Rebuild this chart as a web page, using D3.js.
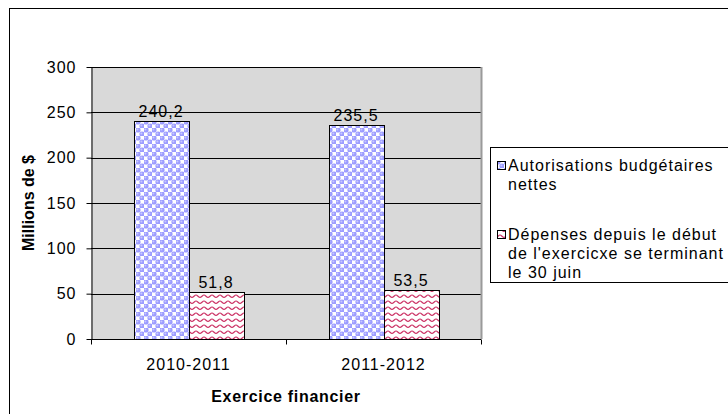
<!DOCTYPE html>
<html>
<head>
<meta charset="utf-8">
<script src="https://cdn.jsdelivr.net/npm/d3@7"></script>
<style>
  body { margin: 0; background: #fff; }
  text { font-family: "Liberation Sans", Arial, sans-serif; }
</style>
</head>
<body>
<div id="chart"></div>
<script>
const categories = ["2010-2011", "2011-2012"]
const seriesNames = ["Autorisations budgétaires nettes", "Dépenses depuis le début de l'exercicxe se terminant le 30 juin"]
const autorisations = [240.2, 235.5]
const depenses = [51.8, 53.5]
const yTicks = [0, 50, 100, 150, 200, 250, 300]

const width = 728
const height = 414
const plot = { left: 91, right: 481, top: 67, bottom: 339 }

const svg = d3.select("#chart").append("svg")
  .attr("width", width)
  .attr("height", height)

const defs = svg.append("defs")

// dotted blue fill
const dots = defs.append("pattern")
  .attr("id", "dots")
  .attr("patternUnits", "userSpaceOnUse")
  .attr("width", 8).attr("height", 8)
dots.append("rect").attr("width", 8).attr("height", 8).attr("fill", "#fff")
;[[2, 2], [6, 6]].forEach(p => {
  dots.append("circle").attr("cx", p[0]).attr("cy", p[1]).attr("r", 2.6).attr("fill", "#9c9cff")
  dots.append("circle").attr("cx", p[0] - 0.6).attr("cy", p[1] - 0.6).attr("r", 1).attr("fill", "#c8c8ff")
})

// wavy red fill
const wave = defs.append("pattern")
  .attr("id", "wave")
  .attr("patternUnits", "userSpaceOnUse")
  .attr("width", 8).attr("height", 6)
wave.append("rect").attr("width", 8).attr("height", 6).attr("fill", "#fff")
wave.append("path")
  .attr("d", "M0,3.5 C1.3,3.5 2.7,1 4,1 C5.3,1 6.7,3.5 8,3.5")
  .attr("fill", "none")
  .attr("stroke", "#cc3366")
  .attr("stroke-width", 1.2)

// outer frame
svg.append("rect")
  .attr("x", 9.5).attr("y", 8.5)
  .attr("width", 740).attr("height", 420)
  .attr("fill", "none").attr("stroke", "#000")

const x = d3.scaleBand().domain(categories).range([plot.left, plot.right])
const y = d3.scaleLinear().domain([0, 300]).range([plot.bottom, plot.top])
const barW = x.bandwidth() / (2 + 1.55)
const offset = (x.bandwidth() - 2 * barW) / 2

// plot background
svg.append("rect")
  .attr("x", plot.left).attr("y", plot.top)
  .attr("width", plot.right - plot.left).attr("height", plot.bottom - plot.top)
  .attr("fill", "#d9d9d9")

// gridlines
svg.append("g").selectAll("line")
  .data(yTicks.slice(1))
  .join("line")
    .attr("x1", plot.left).attr("x2", plot.right)
    .attr("y1", d => Math.round(y(d)) + 0.5).attr("y2", d => Math.round(y(d)) + 0.5)
    .attr("stroke", "#000")

// right border of plot area
svg.append("line")
  .attr("x1", plot.right + 0.5).attr("x2", plot.right + 0.5)
  .attr("y1", plot.top).attr("y2", plot.bottom)
  .attr("stroke", "#9a9a9a").attr("stroke-width", 2)

// bars
const series = [
  { values: autorisations, fill: "url(#dots)" },
  { values: depenses, fill: "url(#wave)" }
]
series.forEach((s, si) => {
  const g = svg.append("g")
  g.selectAll("rect")
    .data(categories)
    .join("rect")
      .attr("x", (d, i) => Math.round(x(d) + offset + si * barW) + 0.5)
      .attr("y", (d, i) => Math.round(y(s.values[i])) + 0.5)
      .attr("width", Math.round(barW))
      .attr("height", (d, i) => Math.round(y(0)) - Math.round(y(s.values[i])))
      .attr("fill", s.fill)
      .attr("stroke", "#000")
  g.selectAll("text")
    .data(categories)
    .join("text")
      .attr("x", (d, i) => x(d) + offset + si * barW + barW / 2)
      .attr("y", (d, i) => y(s.values[i]) - 4)
      .attr("text-anchor", "middle")
      .style("font-size", "16px")
      .style("letter-spacing", "1px")
      .text((d, i) => d3.format(".1f")(s.values[i]).replace(".", ","))
})

// y axis
const yAxis = svg.append("g")
  .attr("transform", `translate(${plot.left + 0.5},0)`)
  .call(d3.axisLeft(y).tickValues(yTicks).tickSize(5).tickSizeOuter(0).tickPadding(10))
yAxis.select(".domain").attr("stroke", "#000")
yAxis.selectAll("text")
  .style("font-size", "16px")
  .style("letter-spacing", "1px")
  .style("font-family", "Liberation Sans, Arial, sans-serif")
  .attr("fill", "#000")

// x axis
const xAxis = svg.append("g")
  .attr("transform", `translate(0,${Math.round(y(0)) + 0.5})`)
  .call(d3.axisBottom(x).tickSize(0).tickPadding(19))
xAxis.select(".domain").remove()
xAxis.append("line")
  .attr("x1", plot.left).attr("x2", plot.right).attr("stroke", "#000")
xAxis.selectAll("text")
  .style("font-size", "16px")
  .style("letter-spacing", "1px")
  .style("font-family", "Liberation Sans, Arial, sans-serif")
  .attr("fill", "#000")
xAxis.append("g").selectAll("line")
  .data([plot.left, plot.left + x.step(), plot.right])
  .join("line")
    .attr("x1", d => Math.round(d) + 0.5).attr("x2", d => Math.round(d) + 0.5)
    .attr("y1", 0).attr("y2", 5)
    .attr("stroke", "#000")

// axis titles
svg.append("text")
  .attr("transform", `translate(34,${(plot.top + plot.bottom) / 2}) rotate(-90)`)
  .attr("text-anchor", "middle")
  .style("font-size", "16px").style("font-weight", "bold")
  .text("Millions de $")

svg.append("text")
  .attr("x", (plot.left + plot.right) / 2)
  .attr("y", 402)
  .attr("text-anchor", "middle")
  .style("font-size", "16px").style("font-weight", "bold")
  .style("letter-spacing", "0.7px")
  .text("Exercice financier")

// legend
const legend = svg.append("g")
legend.append("rect")
  .attr("x", 490.5).attr("y", 147.5)
  .attr("width", 240).attr("height", 135)
  .attr("fill", "#fff").attr("stroke", "#000")

const legendLines = [
  ["Autorisations budgétaires", "nettes"],
  ["Dépenses depuis le début", "de l'exercicxe se terminant", "le 30 juin"]
]
const legendY = [166, 235]
seriesNames.forEach((name, i) => {
  legend.append("rect")
    .attr("x", 497.5).attr("y", legendY[i] - 4.5)
    .attr("width", 8).attr("height", 8)
    .attr("fill", series[i].fill).attr("stroke", "#000")
  legend.append("text")
    .attr("x", 508).attr("y", legendY[i] + 5)
    .style("font-size", "16px")
    .style("letter-spacing", "1px")
    .selectAll("tspan")
    .data(legendLines[i])
    .join("tspan")
      .attr("x", 508)
      .attr("dy", (d, j) => j ? 19 : 0)
      .text(d => d)
})
</script>
</body>
</html>
